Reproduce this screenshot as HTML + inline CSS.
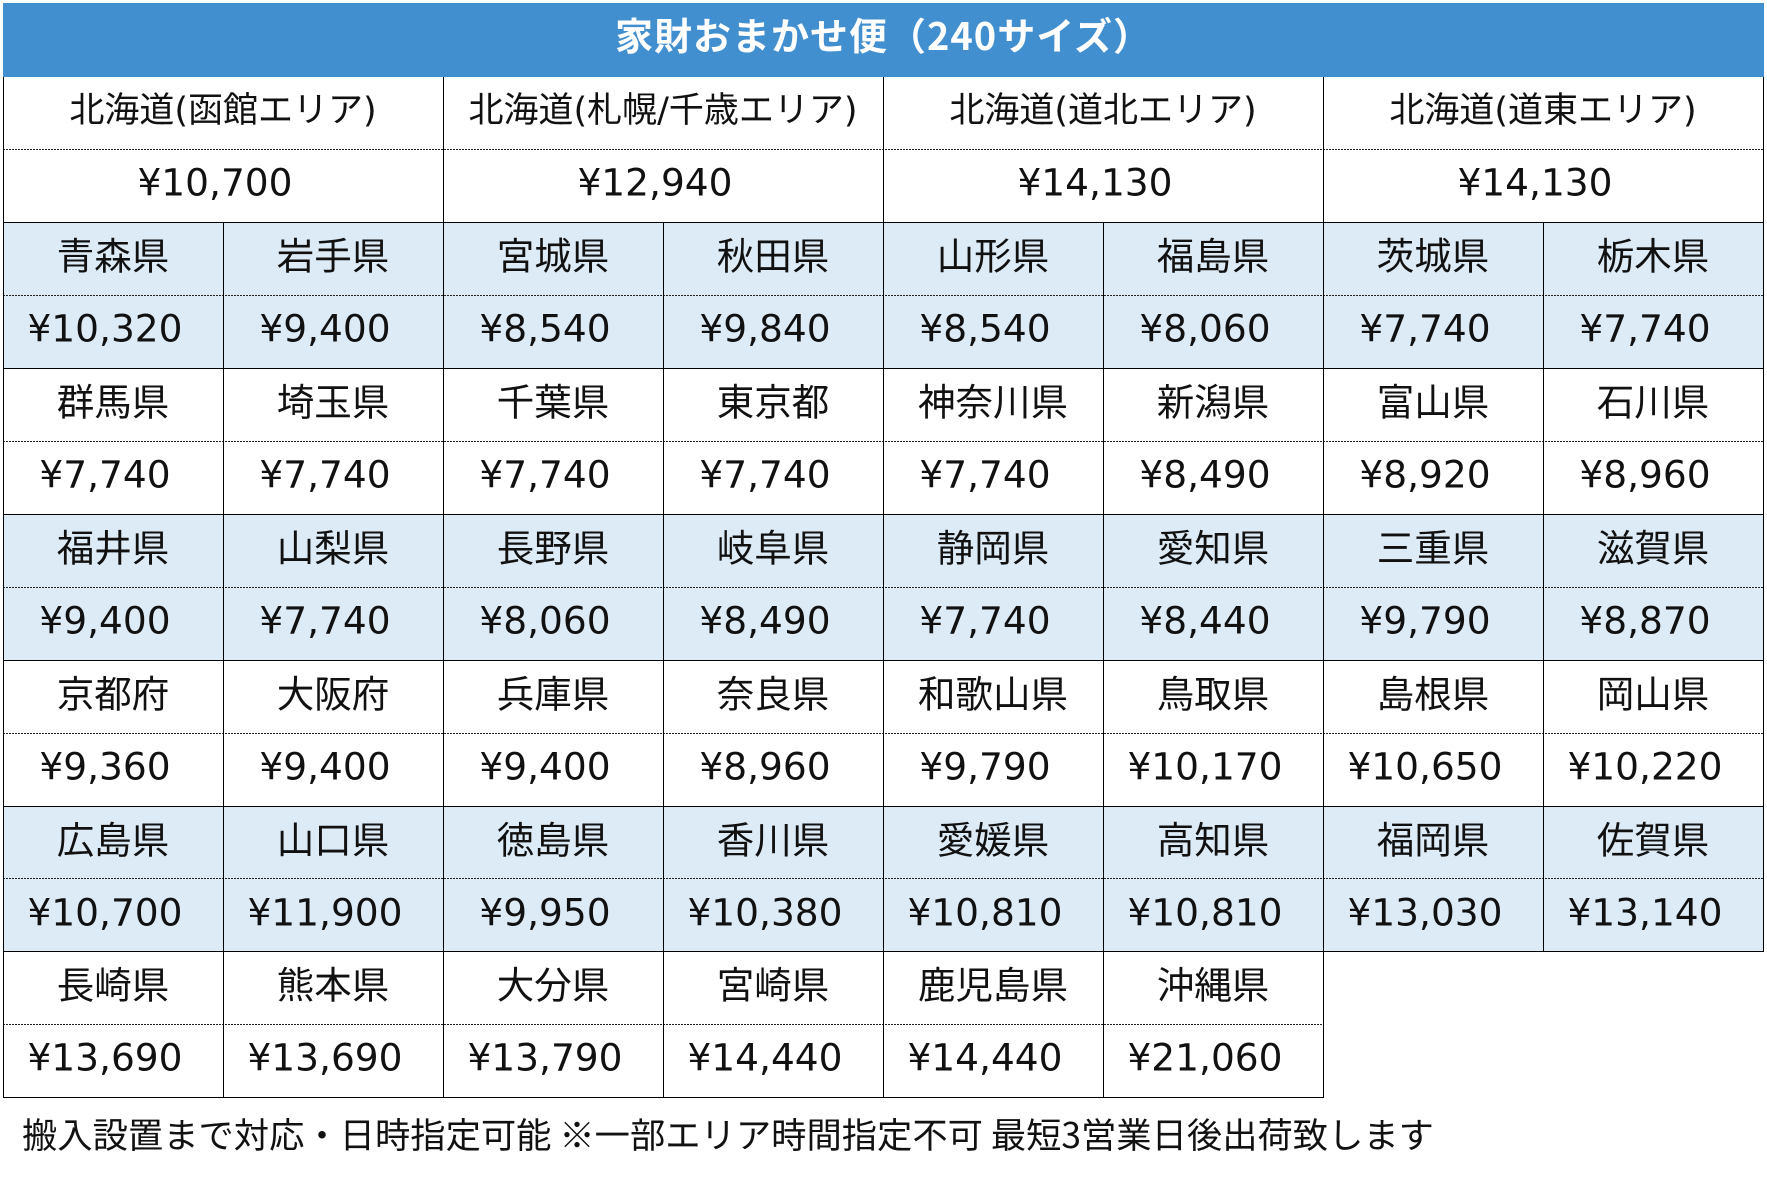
<!DOCTYPE html>
<html><head><meta charset="utf-8">
<style>
*{margin:0;padding:0;box-sizing:border-box}
html,body{width:1767px;height:1204px;background:#fff;overflow:hidden}
body{position:relative;color:#111}
.title{position:absolute;left:3px;top:3px;width:1761px;height:74px;background:#428FD0;display:flex;align-items:center;justify-content:center}
.title span{font:bold 38px "Noto Sans CJK JP",sans-serif;letter-spacing:1px;color:#fff;line-height:1;transform:translateY(-6px);display:block}
.bg{position:absolute;left:3px;width:1761px;background:#DDEBF7}
.row{position:absolute;left:3px;height:72.9px;display:grid;grid-template-columns:repeat(8,220px)}
.row.h{grid-template-columns:repeat(4,440px)}
.row div{display:flex;align-items:center;justify-content:center;white-space:nowrap}
.row div span{display:block;line-height:1}
.n span{font-size:37.5px;font-family:"Noto Sans CJK JP",sans-serif;transform:translateY(-5.5px)}
.hn span{font-size:35px;font-family:"DejaVu Sans","Noto Sans CJK JP",sans-serif;transform:translateY(-2px)}
.p span{font-size:37.5px;font-family:"DejaVu Sans",sans-serif;transform:translate(-8px,-2.5px)}
.hp span{transform:translate(-8px,-3.5px)}
.hl{position:absolute;height:1px;background:#000}
.dl{position:absolute;height:1px;background:repeating-linear-gradient(90deg,#222 0 2px,transparent 2px 3px)}
.vl{position:absolute;width:1px;background:#000}
.foot{position:absolute;left:22px;top:1116px;font-size:35.3px;line-height:1;font-family:"Noto Sans CJK JP",sans-serif;white-space:nowrap;color:#111}
</style></head><body>
<div class="title"><span>家財おまかせ便（240サイズ）</span></div>

<div class="bg" style="top:222.8px;height:145.8px"></div>
<div class="bg" style="top:514.4px;height:145.8px"></div>
<div class="bg" style="top:806px;height:145.8px"></div>

<div class="row h hn" style="top:77px"><div><span>北海道(函館エリア)</span></div><div><span>北海道(札幌/千歳エリア)</span></div><div><span>北海道(道北エリア)</span></div><div><span>北海道(道東エリア)</span></div></div>
<div class="row h p hp" style="top:149.9px"><div><span>¥10,700</span></div><div><span>¥12,940</span></div><div><span>¥14,130</span></div><div><span>¥14,130</span></div></div>

<div class="row n" style="top:222.8px"><div><span>青森県</span></div><div><span>岩手県</span></div><div><span>宮城県</span></div><div><span>秋田県</span></div><div><span>山形県</span></div><div><span>福島県</span></div><div><span>茨城県</span></div><div><span>栃木県</span></div></div>
<div class="row p" style="top:295.7px"><div><span>¥10,320</span></div><div><span>¥9,400</span></div><div><span>¥8,540</span></div><div><span>¥9,840</span></div><div><span>¥8,540</span></div><div><span>¥8,060</span></div><div><span>¥7,740</span></div><div><span>¥7,740</span></div></div>

<div class="row n" style="top:368.6px"><div><span>群馬県</span></div><div><span>埼玉県</span></div><div><span>千葉県</span></div><div><span>東京都</span></div><div><span>神奈川県</span></div><div><span>新潟県</span></div><div><span>富山県</span></div><div><span>石川県</span></div></div>
<div class="row p" style="top:441.5px"><div><span>¥7,740</span></div><div><span>¥7,740</span></div><div><span>¥7,740</span></div><div><span>¥7,740</span></div><div><span>¥7,740</span></div><div><span>¥8,490</span></div><div><span>¥8,920</span></div><div><span>¥8,960</span></div></div>

<div class="row n" style="top:514.4px"><div><span>福井県</span></div><div><span>山梨県</span></div><div><span>長野県</span></div><div><span>岐阜県</span></div><div><span>静岡県</span></div><div><span>愛知県</span></div><div><span>三重県</span></div><div><span>滋賀県</span></div></div>
<div class="row p" style="top:587.3px"><div><span>¥9,400</span></div><div><span>¥7,740</span></div><div><span>¥8,060</span></div><div><span>¥8,490</span></div><div><span>¥7,740</span></div><div><span>¥8,440</span></div><div><span>¥9,790</span></div><div><span>¥8,870</span></div></div>

<div class="row n" style="top:660.2px"><div><span>京都府</span></div><div><span>大阪府</span></div><div><span>兵庫県</span></div><div><span>奈良県</span></div><div><span>和歌山県</span></div><div><span>鳥取県</span></div><div><span>島根県</span></div><div><span>岡山県</span></div></div>
<div class="row p" style="top:733.1px"><div><span>¥9,360</span></div><div><span>¥9,400</span></div><div><span>¥9,400</span></div><div><span>¥8,960</span></div><div><span>¥9,790</span></div><div><span>¥10,170</span></div><div><span>¥10,650</span></div><div><span>¥10,220</span></div></div>

<div class="row n" style="top:806px"><div><span>広島県</span></div><div><span>山口県</span></div><div><span>徳島県</span></div><div><span>香川県</span></div><div><span>愛媛県</span></div><div><span>高知県</span></div><div><span>福岡県</span></div><div><span>佐賀県</span></div></div>
<div class="row p" style="top:878.9px"><div><span>¥10,700</span></div><div><span>¥11,900</span></div><div><span>¥9,950</span></div><div><span>¥10,380</span></div><div><span>¥10,810</span></div><div><span>¥10,810</span></div><div><span>¥13,030</span></div><div><span>¥13,140</span></div></div>

<div class="row n" style="top:951.8px"><div><span>長崎県</span></div><div><span>熊本県</span></div><div><span>大分県</span></div><div><span>宮崎県</span></div><div><span>鹿児島県</span></div><div><span>沖縄県</span></div></div>
<div class="row p" style="top:1024.7px"><div><span>¥13,690</span></div><div><span>¥13,690</span></div><div><span>¥13,790</span></div><div><span>¥14,440</span></div><div><span>¥14,440</span></div><div><span>¥21,060</span></div></div>

<!-- dotted lines -->
<div class="dl" style="left:3px;width:1761px;top:149px"></div>
<div class="dl" style="left:3px;width:1761px;top:295px"></div>
<div class="dl" style="left:3px;width:1761px;top:441px"></div>
<div class="dl" style="left:3px;width:1761px;top:587px"></div>
<div class="dl" style="left:3px;width:1761px;top:733px"></div>
<div class="dl" style="left:3px;width:1761px;top:878px"></div>
<div class="dl" style="left:3px;width:1321px;top:1024px"></div>

<!-- solid horizontal lines -->
<div class="hl" style="left:3px;width:1761px;top:222px"></div>
<div class="hl" style="left:3px;width:1761px;top:368px"></div>
<div class="hl" style="left:3px;width:1761px;top:514px"></div>
<div class="hl" style="left:3px;width:1761px;top:660px"></div>
<div class="hl" style="left:3px;width:1761px;top:806px"></div>
<div class="hl" style="left:3px;width:1761px;top:951px"></div>
<div class="hl" style="left:3px;width:1321px;top:1097px"></div>

<!-- vertical lines -->
<div class="vl" style="left:3px;top:77px;height:1021px"></div>
<div class="vl" style="left:1763px;top:77px;height:875px"></div>
<div class="vl" style="left:443px;top:77px;height:1021px"></div>
<div class="vl" style="left:883px;top:77px;height:1021px"></div>
<div class="vl" style="left:1323px;top:77px;height:1021px"></div>
<div class="vl" style="left:223px;top:222px;height:876px"></div>
<div class="vl" style="left:663px;top:222px;height:876px"></div>
<div class="vl" style="left:1103px;top:222px;height:876px"></div>
<div class="vl" style="left:1543px;top:222px;height:730px"></div>

<div class="foot">搬入設置まで対応・日時指定可能 ※一部エリア時間指定不可 最短3営業日後出荷致します</div>
</body></html>
